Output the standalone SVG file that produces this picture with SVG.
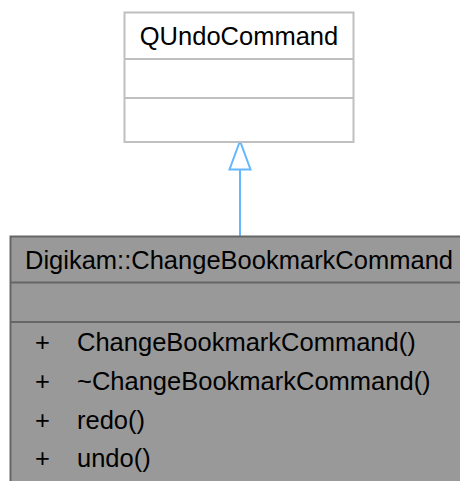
<svg xmlns="http://www.w3.org/2000/svg" width="460" height="481" viewBox="0 0 460 481">
<style>
text{font-family:"Liberation Sans",Arial,sans-serif;font-size:25.5px;fill:#000}
.base{fill:#ffffff;stroke:#bfbfbf;stroke-width:2}
.basel{stroke:#bfbfbf;stroke-width:2}
.cls{fill:#999999;stroke:#666666;stroke-width:2}
.clsl{stroke:#666666;stroke-width:2}
.edge{stroke:#63b8ff;stroke-width:2;fill:none}
.head{stroke:#63b8ff;stroke-width:2;fill:#ffffff}
</style>
<rect width="460" height="481" fill="#ffffff"/>
<g id="connectors">
<line class="edge" x1="240" y1="237" x2="240" y2="169"/>
<polygon class="head" points="240,141 229.5,169.5 250.5,169.5"/>
</g>
<g id="node-QUndoCommand">
<rect class="base" x="124.5" y="12.5" width="229" height="129.5"/>
<line class="basel" x1="124.5" y1="59" x2="353.5" y2="59"/>
<line class="basel" x1="124.5" y1="98" x2="353.5" y2="98"/>
<text x="239" y="45" text-anchor="middle">QUndoCommand</text>
</g>
<g id="node-ChangeBookmarkCommand">
<rect class="cls" x="10.5" y="236.5" width="460" height="260"/>
<line class="clsl" x1="10.5" y1="282.5" x2="470" y2="282.5"/>
<line class="clsl" x1="10.5" y1="322" x2="470" y2="322"/>
<text x="25" y="269" textLength="428" lengthAdjust="spacingAndGlyphs">Digikam::ChangeBookmarkCommand</text>
<text x="35" y="351">+</text>
<text x="77" y="351">ChangeBookmarkCommand()</text>
<text x="35" y="390">+</text>
<text x="77" y="390">~ChangeBookmarkCommand()</text>
<text x="35" y="429">+</text>
<text x="77" y="429">redo()</text>
<text x="35" y="467">+</text>
<text x="77" y="467">undo()</text>
</g>
</svg>
